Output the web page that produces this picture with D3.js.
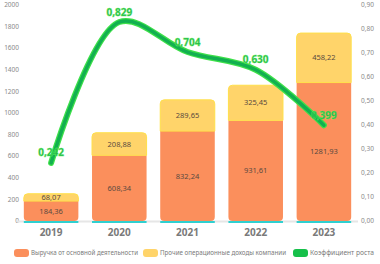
<!DOCTYPE html>
<html>
<head>
<meta charset="utf-8">
<script src="https://cdn.jsdelivr.net/npm/d3@7"></script>
<style>
  body { margin: 0; background: #fff; }
  svg { display: block; font-family: "Noto Sans", sans-serif; }
</style>
</head>
<body>
<script>
const width = 380;
const height = 264;

const years = ["2019", "2020", "2021", "2022", "2023"];
const baseValues = [184.36, 608.34, 832.24, 931.61, 1281.93];
const topValues = [68.07, 208.88, 289.65, 325.45, 458.22];
const ratioValues = [0.242, 0.829, 0.704, 0.630, 0.399];
const leftTicks = [0, 200, 400, 600, 800, 1000, 1200, 1400, 1600, 1800, 2000];
const rightTicks = [0, 0.1, 0.2, 0.3, 0.4, 0.5, 0.6, 0.7, 0.8, 0.9];
const legendNames = ["Выручка от основной деятельности", "Прочие операционные доходы компании", "Коэффициент роста"];

const fmt = v => d3.format(".2f")(v).replace(".", ",");
const fmt3 = v => d3.format(".3f")(v).replace(".", ",");

const svg = d3.select("body").append("svg")
  .attr("width", width)
  .attr("height", height);

const plot = { left: 17, right: 358, top: 5, bottom: 221 };

const x = d3.scaleBand().domain(years).range([plot.left, plot.right]).paddingInner(0.2).paddingOuter(0.1);
const yL = d3.scaleLinear().domain([0, 2000]).range([plot.bottom, plot.top]);
const yR = d3.scaleLinear().domain([0, 0.9]).range([plot.bottom, plot.top]);

// left axis labels
svg.append("g").selectAll("text").data(leftTicks).join("text")
  .attr("x", 19).attr("y", d => yL(d)).attr("dy", "0.35em")
  .attr("text-anchor", "end").attr("font-size", 6.5).attr("fill", "#8a8a8a")
  .text(d => d);

// right axis labels
svg.append("g").selectAll("text").data(rightTicks).join("text")
  .attr("x", 361).attr("y", d => yR(d)).attr("dy", "0.35em")
  .attr("text-anchor", "start").attr("font-size", 6.5).attr("fill", "#8a8a8a")
  .text(d => fmt(d));

// baseline
svg.append("line")
  .attr("x1", plot.left).attr("x2", plot.right)
  .attr("y1", plot.bottom + 0.5).attr("y2", plot.bottom + 0.5)
  .attr("stroke", "#e6e6e6").attr("stroke-width", 2);

const bars = svg.append("g");
years.forEach((yr, i) => {
  const bx = x(yr), bw = x.bandwidth();
  const y0 = yL(0), y1 = yL(baseValues[i]), y2 = yL(baseValues[i] + topValues[i]);
  const r = 4;
  // bottom segment, rounded at bottom
  bars.append("path")
    .attr("d", `M${bx},${y1} H${bx + bw} V${y0 - r} Q${bx + bw},${y0} ${bx + bw - r},${y0} H${bx + r} Q${bx},${y0} ${bx},${y0 - r} Z`)
    .attr("fill", "#fb8f5c");
  // top segment, rounded at top
  bars.append("path")
    .attr("d", `M${bx},${y1} V${y2 + r} Q${bx},${y2} ${bx + r},${y2} H${bx + bw - r} Q${bx + bw},${y2} ${bx + bw},${y2 + r} V${y1} Z`)
    .attr("fill", "#ffd46a").attr("stroke", "#ffe04a").attr("stroke-width", 1);
  // cyan foot
  bars.append("rect")
    .attr("x", bx).attr("y", y0).attr("width", bw).attr("height", 2)
    .attr("fill", "#2fd0d0");
  // labels
  bars.append("text")
    .attr("x", bx + bw / 2).attr("y", (y0 + y1) / 2).attr("dy", "0.35em")
    .attr("text-anchor", "middle").attr("font-size", 7.5).attr("fill", "#5a4a40")
    .text(fmt(baseValues[i]));
  bars.append("text")
    .attr("x", bx + bw / 2).attr("y", (y1 + y2) / 2).attr("dy", "0.35em")
    .attr("text-anchor", "middle").attr("font-size", 7.5).attr("fill", "#5a4a40")
    .text(fmt(topValues[i]));
});

// x labels
svg.append("g").selectAll("text").data(years).join("text")
  .attr("x", d => x(d) + x.bandwidth() / 2).attr("y", 236)
  .attr("text-anchor", "middle").attr("font-size", 10).attr("font-weight", "bold")
  .attr("fill", "#7a7a7a")
  .text(d => d);

// ratio line
const pts = years.map((yr, i) => [x(yr) + x.bandwidth() / 2, yR(ratioValues[i])]);
const line = d3.line().curve(d3.curveCatmullRom.alpha(0.5));
svg.append("path")
  .attr("d", line(pts))
  .attr("fill", "none").attr("stroke", "#3ee04a").attr("stroke-width", 6)
  .attr("stroke-linecap", "round");
svg.append("path")
  .attr("d", line(pts))
  .attr("fill", "none").attr("stroke", "#12b050").attr("stroke-width", 3.5)
  .attr("stroke-linecap", "round");

svg.append("g").selectAll("text").data(ratioValues).join("text")
  .attr("x", (d, i) => pts[i][0]).attr("y", (d, i) => pts[i][1] - 10).attr("dy", "0.35em")
  .attr("text-anchor", "middle").attr("font-size", 10).attr("font-weight", "bold")
  .attr("fill", "#1fb04a").attr("stroke", "#5ff05a").attr("stroke-width", 0.4)
  .text(d => fmt3(d));

// legend
const legendColors = ["#fb8f5c", "#ffd46a", "#16c04a"];
const legendX = [14, 143, 293];
const leg = svg.append("g");
legendNames.forEach((name, i) => {
  leg.append("rect")
    .attr("x", legendX[i]).attr("y", 249).attr("width", 15).attr("height", 8).attr("rx", 3)
    .attr("fill", legendColors[i]);
  leg.append("text")
    .attr("x", legendX[i] + 17).attr("y", 253).attr("dy", "0.35em")
    .attr("font-size", 7).attr("fill", "#7a7a7a")
    .attr("textLength", [107, 126, 64][i]).attr("lengthAdjust", "spacingAndGlyphs")
    .text(name);
});
</script>
</body>
</html>
